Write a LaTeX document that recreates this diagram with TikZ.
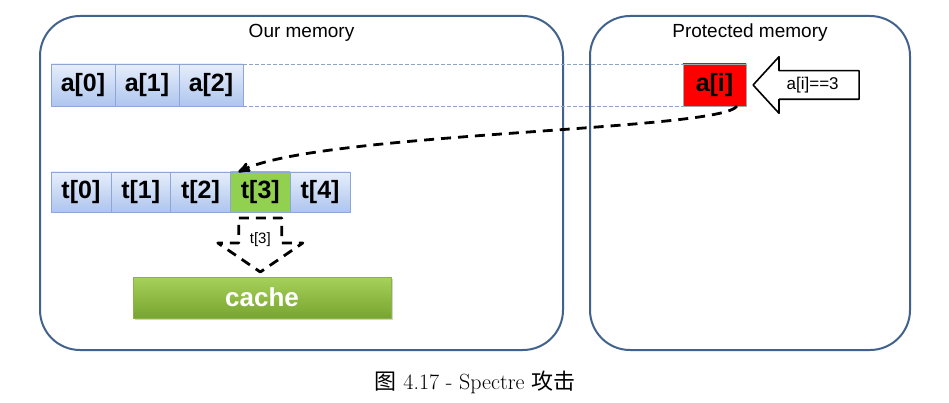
\documentclass[tikz,border=0pt]{standalone}
\usepackage{fontspec}
\usepackage{tikz}
\usetikzlibrary{arrows,positioning,calc,shapes.arrows,shadows}
\newfontfamily\arial{Liberation Sans}
\newfontfamily\cjk{Noto Sans CJK SC}
\definecolor{boxline}{HTML}{41628C}
\definecolor{celltop}{HTML}{E6EEFB}
\definecolor{cellbot}{HTML}{AEC5EE}
\definecolor{cellline}{HTML}{8DA6D4}
\definecolor{secret}{HTML}{FF0000}
\definecolor{hit}{HTML}{92D050}
\definecolor{cachetop}{HTML}{A6D15A}
\definecolor{cachebot}{HTML}{78A52F}
\definecolor{cacheline}{HTML}{8AB44A}
\definecolor{guideline}{HTML}{8FA3C6}

\begin{document}
\begin{tikzpicture}[x=1pt,y=-1pt,>=stealth',line join=round,node distance=0pt]
  \tikzstyle{membox}=[draw=boxline,line width=2pt,rounded corners=40pt,minimum height=334pt]
  \tikzstyle{title}=[font=\arial\fontsize{19}{22}\selectfont]
  \tikzstyle{cell}=[draw=cellline,top color=celltop,bottom color=cellbot,minimum width=64pt,
                    minimum height=42pt,inner sep=0pt,outer sep=0pt,
                    font=\arial\bfseries\fontsize{25}{28}\selectfont]
  \tikzstyle{tcell}=[cell,minimum width=59.8pt,minimum height=40pt]
  \tikzstyle{guide}=[draw=guideline,line width=0.8pt,dash pattern=on 4pt off 2pt]
  \tikzstyle{leak}=[line width=2.8pt,dash pattern=on 10pt off 7pt]
  \tikzstyle{cachebox}=[draw=cacheline,top color=cachetop,bottom color=cachebot,
                        minimum width=258pt,minimum height=41pt,text=white,
                        font=\arial\bfseries\fontsize{26}{29}\selectfont,
                        drop shadow={shadow xshift=1.5pt,shadow yshift=-2pt,opacity=0.35}]

  \useasboundingbox (0,0) rectangle (949,403);

  % the two memories
  \node[membox,minimum width=523pt] (ours) at (301.5,183) {};
  \node[membox,minimum width=320pt] (prot) at (750,183) {};
  \node[title] (ourstitle) at ([yshift=-18pt]ours.north) {Our memory};
  \node[title] (prottitle) at ([yshift=-18pt]prot.north) {Protected memory};

  % array a
  \node[cell] (a0) at (83,85) {a[0]};
  \node[cell,right=of a0] (a1) {a[1]};
  \node[cell,right=of a1] (a2) {a[2]};
  \node[cell,minimum width=63pt,top color=secret,bottom color=secret,draw=gray!70] (ai) at (714.5,85) {a[i]};
  \draw[guide] (a2.north east) -- (ai.north west);
  \draw[guide] (a2.south east) -- (ai.south west);

  \node[single arrow,draw=black,line width=1.6pt,fill=white,shape border rotate=180,
        single arrow head extend=14pt,single arrow tip angle=95,minimum height=106pt,
        text height=12pt,text depth=3.5pt,inner ysep=5.75pt,
        font=\arial\fontsize{17}{20}\selectfont,anchor=tip] (cond) at ([xshift=6pt]ai.east) {a[i]==3};

  % array t
  \node[tcell] (t0) at (80.9,192) {t[0]};
  \node[tcell,right=of t0] (t1) {t[1]};
  \node[tcell,right=of t1] (t2) {t[2]};
  \node[tcell,right=of t2,top color=hit,bottom color=hit] (t3) {t[3]};
  \node[tcell,right=of t3] (t4) {t[4]};

  \draw[leak,->] ([xshift=-9pt]ai.south east) .. controls +(-15,25) and +(80,-40) .. ([xshift=8pt]t3.north west);

  % load into cache
  \draw[leak,fill=white,shift={(t3.south)}] (-21.5,6) -- (21.5,6) -- (21.5,31) -- (42.5,31)
        -- (0,60) -- (-42.5,31) -- (-21.5,31) -- cycle;
  \node[font=\arial\fontsize{15}{18}\selectfont] (load) at ([yshift=-28pt]t3.south) {t[3]};
  \node[cachebox] (cache) at (262,297.5) {cache};

  \node[font=\fontsize{22}{26}\selectfont] (caption) at (475,382) {{\cjk 图} 4.17 - Spectre {\cjk 攻击}};
\end{tikzpicture}
\end{document}
